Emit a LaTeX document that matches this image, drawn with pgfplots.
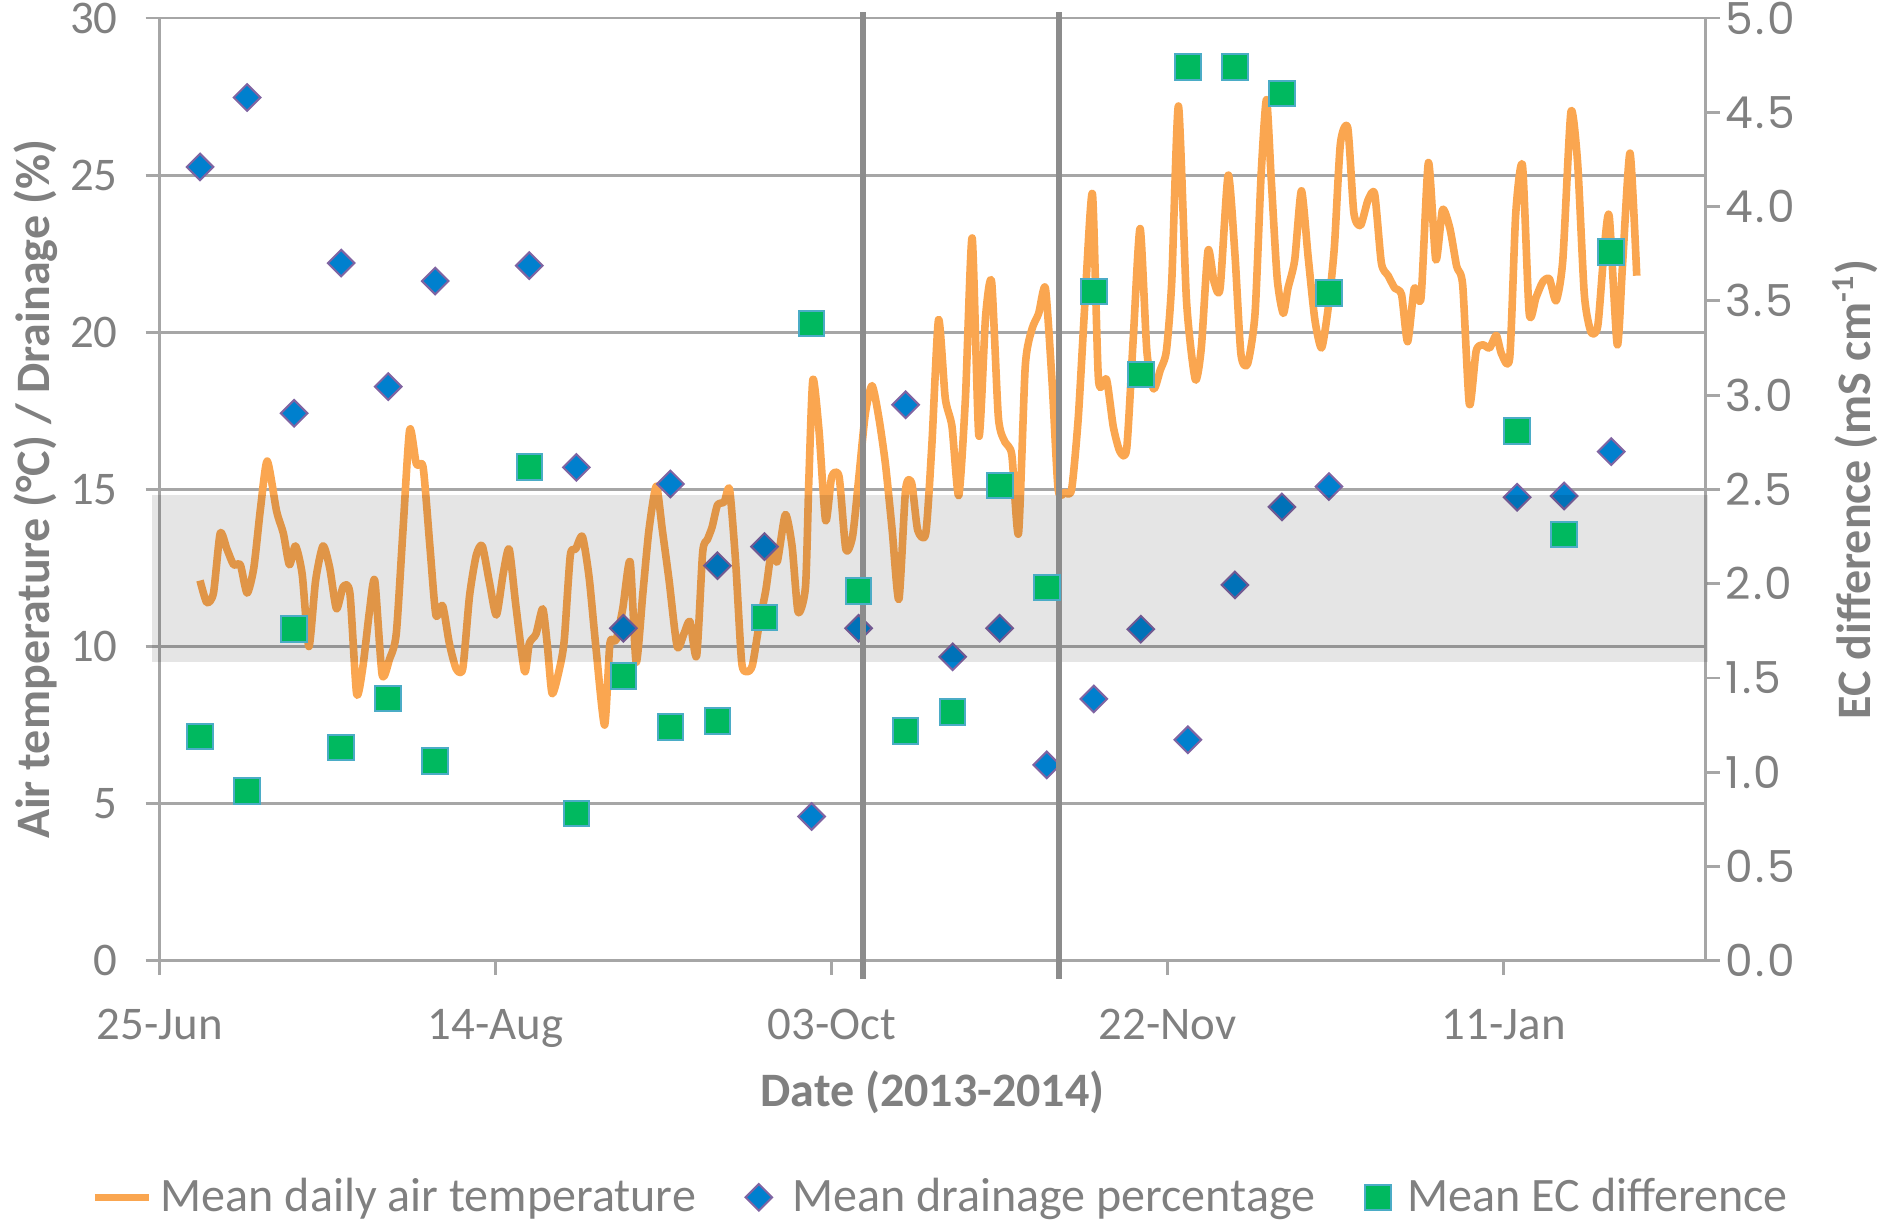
\documentclass[border=0pt]{standalone}
\usepackage{pgfplots}
\usepackage{pgfplotstable}
\pgfplotsset{compat=1.18}
\usepackage{fontspec}
\setmainfont{Carlito}
\newfontfamily\poppins[LetterSpace=5]{Poppins}
\definecolor{txtgray}{RGB}{128,128,128}
\definecolor{gridgray}{RGB}{166,166,166}
\definecolor{vgray}{RGB}{140,140,140}
\definecolor{lineorange}{RGB}{250,166,80}
\definecolor{dblue}{RGB}{0,128,206}
\definecolor{dpurple}{RGB}{128,100,162}
\definecolor{sgreen}{RGB}{0,185,95}
\definecolor{scyan}{RGB}{75,172,198}

\pgfplotstableread{
day T
6 12.1
7 11.4
8 11.7
9 13.6
10 13.1
11 12.6
12 12.6
13 11.7
14 12.5
15 14.4
16 15.9
17.4 14.3
18.4 13.6
19.3 12.6
20.2 13.2
21.2 12.3
22.2 10.0
23.2 12.1
24.3 13.2
25.3 12.5
26.3 11.2
27.3 11.9
28.3 11.7
29.3 8.5
30.2 9.3
31.2 11.1
32 12.1
33.1 9.1
34.2 9.6
35.2 10.4
36.2 13.7
37.2 16.9
38.2 15.8
39.2 15.7
40.2 13.2
41.1 11.0
42.1 11.3
43.1 10.1
44.1 9.3
45.1 9.3
46.1 11.6
47.1 12.9
48 13.2
49.1 12.0
50.1 11.0
51.1 12.3
52 13.1
53 11.3
54.3 9.2
55 10.1
56 10.4
57 11.2
57.7 10.0
58.4 8.5
59.5 9.3
60.2 10.2
61.1 12.9
61.9 13.1
62.9 13.5
63.9 12.2
64.9 10.0
66.2 7.5
67 10.1
67.9 10.2
68.9 11.2
70 12.7
70.9 9.5
71.9 11.7
72.8 13.7
73.9 15.1
74.8 13.7
75.8 12.1
77 10.0
78 10.4
78.9 10.8
79.9 9.7
80.8 13.0
81.5 13.4
82.2 13.8
83 14.5
84 14.6
84.8 15.0
85.7 12.7
86.6 9.5
87.4 9.2
88.2 9.4
89.2 10.7
90.2 11.8
91.1 13.1
91.9 12.7
93.1 14.2
94.1 13.2
95 11.1
96.1 11.9
96.6 15.3
97.2 18.5
98.1 16.9
99.1 14.0
100 15.4
101.1 15.4
102.1 13.1
103.1 13.5
104 15.3
105 17.4
106 18.3
107 17.3
108 15.8
109 13.7
110 11.5
111 15.0
111.9 15.2
112.8 13.7
114 13.6
114.9 16.4
115.9 20.4
116.9 17.9
117.9 17.0
118.9 14.8
119.9 17.9
120.9 23.0
121.9 16.7
122.9 20.5
123.8 21.6
124.8 17.3
125.8 16.5
126.8 16.1
127.8 13.6
128.8 18.9
129.8 20.1
130.8 20.6
131.8 21.4
132.8 18.4
133.7 15.0
134.7 14.9
135.7 15.0
136.7 17.3
137.7 21.0
138.8 24.4
139.7 18.5
140.9 18.5
141.9 17.0
142.9 16.2
143.9 16.3
144.9 19.9
145.9 23.3
146.9 19.4
147.9 18.2
148.9 18.8
149.8 19.4
150.6 21.6
151.6 27.2
152.8 21.0
154.1 18.5
155 19.5
156 22.6
156.9 21.6
157.8 21.4
159 25.0
160 22.5
160.9 19.3
161.9 19.0
163 20.6
163.9 25.0
164.7 27.4
165.4 24.9
166.3 21.7
167.2 20.6
167.9 21.4
168.9 22.3
169.9 24.5
170.9 22.4
171.9 20.4
172.9 19.5
173.9 20.8
174.8 22.7
175.7 26.0
176.8 26.5
177.7 23.8
178.7 23.4
179.8 24.2
180.8 24.4
181.8 22.2
182.8 21.8
183.8 21.4
184.8 21.2
185.7 19.7
186.7 21.4
187.7 21.1
188.8 25.4
189.9 22.3
190.9 23.9
192 23.3
193 22.1
193.9 21.5
194.9 17.7
195.9 19.4
196.9 19.6
197.9 19.5
198.9 19.9
199.7 19.3
200.9 19.2
201.8 23.8
202.8 25.3
203.8 20.6
204.8 21.1
205.8 21.6
206.8 21.7
207.8 21.0
208.8 22.3
210 27.0
211 25.4
212 21.2
213 20.0
214 20.2
214.9 22.5
215.7 23.7
216.9 19.6
217.7 22.2
218.8 25.7
219.8 21.8
}\temptable

\pgfplotstableread{
day drain ec
6 25.26 1.19
13 27.47 0.90
20 17.42 1.76
27 22.20 1.13
34 18.27 1.39
41 21.63 1.06
55 22.12 2.62
62 15.70 0.78
69 10.58 1.51
76 15.17 1.24
83 12.57 1.27
90 13.18 1.82
97 4.59 3.38
104 10.58 1.96
111 17.69 1.22
118 9.67 1.32
125 10.58 2.52
132 6.23 1.98
139 8.33 3.55
146 10.55 3.11
153 7.03 4.74
160 11.96 4.74
167 14.44 4.60
174 15.09 3.54
202 14.75 2.81
209 14.79 2.26
216 16.20 3.76
}\weekly

\begin{document}
\begin{tikzpicture}
\useasboundingbox (-39.9pt,-65.4pt) rectangle (430.5pt,240pt);
% left axis
\begin{axis}[
  at={(0,0)}, anchor=south west,
  width=386.1pt, height=235.5pt, scale only axis,
  xmin=0, xmax=230, ymin=0, ymax=30,
  axis x line*=bottom, axis y line*=left,
  axis line style={gridgray, line width=0.7pt},
  xtick=\empty,
  ytick={0,5,10,15,20,25,30},
  yticklabels={0,5,10,15,20,25,30},
  ymajorgrids, grid style={gridgray, line width=0.7pt},
  major tick style={gridgray, line width=0.7pt},
  ytick align=center, major tick length=7pt,
  yticklabel style={font=\fontsize{11.7}{14}\selectfont, text=txtgray, xshift=-3.5pt},
  ylabel={Air temperature (°C) / Drainage (\%)},
  ylabel style={font=\bfseries\fontsize{12}{14}\selectfont, text=txtgray,
    at={(axis description cs:-0.080,0.5)}, anchor=center},
]
\addplot[lineorange, line width=1.9pt, smooth, tension=0.4, line join=round] table[x=day,y=T] {\temptable};
\addplot[only marks, mark=square*, mark size=2.35pt,
  mark options={rotate=45, fill=dblue, draw=dpurple, line width=0.5pt}]
  table[x=day,y=drain] {\weekly};
\end{axis}
% right axis
\begin{axis}[
  at={(0,0)}, anchor=south west,
  width=386.1pt, height=235.5pt, scale only axis,
  xmin=0, xmax=230, ymin=0, ymax=5,
  axis x line*=bottom, axis y line*=right,
  axis line style={gridgray, line width=0.7pt},
  major tick style={gridgray, line width=0.7pt},
  tick align=outside, major tick length=3.6pt,
  xtick={0,50,100,150,200},
  xticklabels={25-Jun,14-Aug,03-Oct,22-Nov,11-Jan},
  xticklabel style={font=\fontsize{11.7}{14}\selectfont, text=txtgray, yshift=-5pt},
  ytick={0,0.5,1,1.5,2,2.5,3,3.5,4,4.5,5},
  yticklabels={0.0,0.5,1.0,1.5,2.0,2.5,3.0,3.5,4.0,4.5,5.0},
  yticklabel style={font=\poppins\fontsize{11}{12}\selectfont, text=txtgray, xshift=-2pt},
  xlabel={Date (2013-2014)},
  xlabel style={font=\bfseries\fontsize{12}{14}\selectfont, text=txtgray,
    at={(axis description cs:0.5,-0.140)}, anchor=center},
  ylabel={EC difference (mS cm\textsuperscript{-1})},
  ylabel style={font=\bfseries\fontsize{12}{14}\selectfont, text=txtgray,
    at={(axis description cs:1.0971,0.5)}, anchor=center, rotate=0},
  clip=false,
  legend columns=3,
  legend style={draw=none, fill=none, at={(axis description cs:0.507,-0.251)}, anchor=center,
    font=\fontsize{12}{14}\selectfont, text=txtgray,
    /tikz/every even column/.append style={column sep=10pt}},
]
\addlegendimage{legend image code/.code={\draw[lineorange,line width=1.9pt] (0pt,0pt) -- (13.5pt,0pt);}}
\addlegendentry{Mean daily air temperature}
\addlegendimage{legend image code/.code={%
  \path (0pt,0pt) (9.6pt,0pt);
  \draw[mark=square*, mark size=2.35pt, mark options={rotate=45, fill=dblue, draw=dpurple, line width=0.5pt}]
    plot coordinates {(3.5pt,0pt)};}}
\addlegendentry{Mean drainage percentage}
\addplot[only marks, mark=square*, mark size=3.2pt,
  mark options={fill=sgreen, draw=scyan, line width=0.5pt},
  legend image code/.code={%
  \path (0pt,0pt) (8.7pt,0pt);
  \draw[mark=square*, mark size=3.2pt, mark options={fill=sgreen, draw=scyan, line width=0.5pt}]
    plot coordinates {(3.5pt,0pt)};}]
  table[x=day,y=ec] {\weekly};
\addlegendentry{Mean EC difference}
\fill[black, opacity=0.1] (axis cs:-1.1,1.587) rectangle (axis cs:230.4,2.470);
\draw[vgray, line width=1.5pt] (axis cs:104.7,-0.096) -- (axis cs:104.7,5.032);
\draw[vgray, line width=1.5pt] (axis cs:133.8,-0.096) -- (axis cs:133.8,5.032);
\end{axis}
\end{tikzpicture}
\end{document}
